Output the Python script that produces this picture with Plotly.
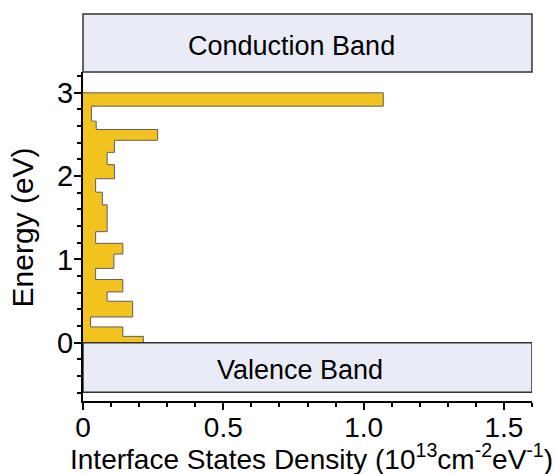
import plotly.graph_objects as go

# Energy bin edges (eV) and interface state density per bin (1e13 cm^-2 eV^-1)
energy_edges = [0.0, 0.076, 0.189, 0.309, 0.498, 0.61, 0.759, 0.892, 1.064, 1.193,
                1.333, 1.655, 1.807, 1.968, 2.137, 2.285, 2.43, 2.56, 2.66, 2.84, 3.0]
density = [0.215, 0.142, 0.027, 0.177, 0.086, 0.142, 0.045, 0.110, 0.142, 0.045,
           0.086, 0.069, 0.045, 0.112, 0.086, 0.112, 0.266, 0.047, 0.030, 1.07]

x_tickvals = [0, 0.5, 1.0, 1.5]
x_ticktext = ["0", "0.5", "1.0", "1.5"]
y_tickvals = [0, 1, 2, 3]
y_ticktext = ["0", "1", "2", "3"]

band_labels = ["Conduction Band", "Valence Band"]
x_title = "Interface States Density (10<sup>13</sup>cm<sup>-2</sup>eV<sup>-1</sup>)"
y_title = "Energy (eV)"

# step outline
xs = [0.0]
ys = [energy_edges[0]]
for i, v in enumerate(density):
    xs += [v, v]
    ys += [energy_edges[i], energy_edges[i + 1]]
xs.append(0.0)
ys.append(energy_edges[-1])

FONT = "Liberation Sans, Arial, sans-serif"

fig = go.Figure()
fig.add_trace(go.Scatter(
    x=xs, y=ys, mode="lines", fill="toself",
    fillcolor="#F2C31F", line=dict(color="#5e5e5e", width=1),
    hoverinfo="skip", showlegend=False,
))

XMAX = 1.6
YMIN, YMAX = -0.70, 3.25
fig.update_layout(
    width=555, height=474,
    margin=dict(l=83, r=23, t=72, b=73, autoexpand=False),
    paper_bgcolor="white", plot_bgcolor="white",
    font=dict(family=FONT, color="black"),
    showlegend=False,
    xaxis=dict(
        range=[0, XMAX], showgrid=False, zeroline=False, automargin=False,
        showline=True, linecolor="black", linewidth=2,
        ticks="outside", ticklen=7, tickwidth=2, tickcolor="black",
        tickvals=x_tickvals, ticktext=x_ticktext, ticklabelstandoff=-7,
        tickfont=dict(size=28, family=FONT),
        minor=dict(dtick=0.1, tick0=0, ticks="outside", ticklen=4, tickwidth=2, tickcolor="black"),
    ),
    yaxis=dict(
        range=[YMIN, YMAX], showgrid=False, zeroline=False, automargin=False,
        showline=True, linecolor="black", linewidth=2,
        ticks="outside", ticklen=7, tickwidth=2, tickcolor="black",
        tickvals=y_tickvals, ticktext=y_ticktext, ticklabelstandoff=-5,
        tickfont=dict(size=29, family=FONT),
        minor=dict(dtick=0.2, tick0=0, ticks="outside", ticklen=4, tickwidth=2, tickcolor="black"),
    ),
)

# axis titles
fig.add_annotation(xref="paper", yref="paper", x=0.51, y=-0.169, xanchor="center", yanchor="middle",
                   text=x_title, showarrow=False, font=dict(size=28, family=FONT, color="black"))
fig.add_annotation(xref="paper", yref="paper", x=-0.134, y=0.527, xanchor="center", yanchor="middle",
                   text=y_title, textangle=-90, showarrow=False,
                   font=dict(size=30, family=FONT, color="black"))

band_fill = "#E9ECF6"
band_line = dict(color="#333333", width=1.5)
# Conduction band (above plot area)
fig.add_shape(type="rect", xref="paper", yref="paper", x0=0, x1=1, y0=1.0, y1=1.176,
              fillcolor=band_fill, line=band_line, layer="above")
fig.add_annotation(xref="paper", yref="paper", x=0.465, y=1.079, xanchor="center", yanchor="middle",
                   text=band_labels[0], showarrow=False,
                   font=dict(size=27, family=FONT, color="black"))
# Valence band (inside plot area, below 0 eV)
fig.add_shape(type="rect", xref="x", yref="y", x0=0, x1=XMAX, y0=-0.596, y1=0,
              fillcolor=band_fill, line=band_line, layer="above")
fig.add_annotation(xref="x", yref="y", x=XMAX * 0.484, y=-0.33, xanchor="center", yanchor="middle",
                   text=band_labels[1], showarrow=False,
                   font=dict(size=27, family=FONT, color="black"))

fig.write_html("out.html")
